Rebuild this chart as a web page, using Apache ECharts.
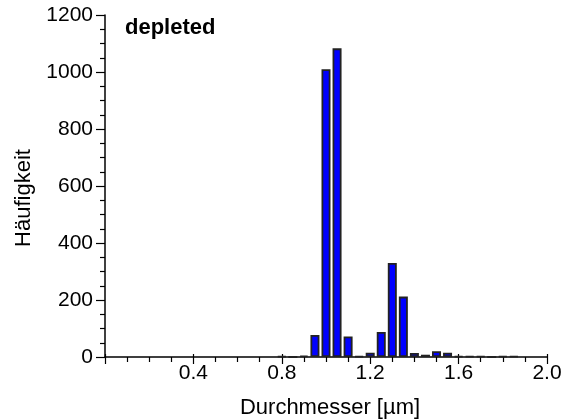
<!DOCTYPE html>
<html>
<head>
<meta charset="utf-8">
<script src="https://cdn.jsdelivr.net/npm/echarts@6/dist/echarts.min.js"></script>
<style>
html,body{margin:0;padding:0;background:#fff;}
#chart{width:575px;height:420px;}
</style>
</head>
<body>
<div id="chart"></div>
<script>
const titleText = 'depleted';
const xAxisName = 'Durchmesser [µm]';
const yAxisName = 'Häufigkeit';
const binCenters = [0.80, 0.85, 0.90, 0.95, 1.00, 1.05, 1.10, 1.15, 1.20, 1.25, 1.30, 1.35, 1.40, 1.45, 1.50, 1.55, 1.60, 1.65, 1.70, 1.75, 1.80, 1.85];
const counts     = [3,    0,    5,    77,   1010, 1083, 72,   3,    15,   88,   330,  212,  14,   8,    20,   15,   3,    3,    3,    0,    3,    3];
const xTicks = [0.4, 0.8, 1.2, 1.6, 2.0];
const yTicks = [0, 200, 400, 600, 800, 1000, 1200];

const font = 'Liberation Sans, Arial, sans-serif';
const chart = echarts.init(document.getElementById('chart'));
const gridL = 105, gridR = 28, gridT = 15, gridB = 63;

chart.setOption({
  animation: false,
  backgroundColor: '#fff',
  grid: { left: gridL, right: gridR, top: gridT, bottom: gridB },
  graphic: [
    { type: 'text', left: 125, top: 17, style: { text: titleText, font: 'bold 22px ' + font, fill: '#000' } },
    { type: 'text', x: 330, y: 397, style: { text: xAxisName, font: '22px ' + font, fill: '#000', textAlign: 'center' } },
    { type: 'text', x: 13, y: 198, rotation: Math.PI / 2, style: { text: yAxisName, font: '22px ' + font, fill: '#000', textAlign: 'center', textVerticalAlign: 'top' } }
  ],
  xAxis: [{
    type: 'value', min: 0, max: 2.0, interval: 0.4,
    axisLine: { show: true, lineStyle: { color: '#000', width: 1.5 } },
    axisTick: { show: true, inside: false, length: 7, lineStyle: { color: '#000', width: 1.2 } },
    minorTick: { show: true, splitNumber: 4, length: 5, lineStyle: { color: '#000', width: 1.2 } },
    splitLine: { show: false },
    axisLabel: {
      color: '#000', fontSize: 21, fontFamily: font, margin: 6, showMinLabel: false,
      formatter: v => xTicks.some(t => Math.abs(t - v) < 1e-6) ? v.toFixed(1) : ''
    }
  }, {
    type: 'value', min: 0, max: 2.0, interval: 0.4, position: 'bottom',
    axisLine: { show: false },
    axisTick: { show: true, inside: true, length: 3, lineStyle: { color: '#000', width: 1.2 } },
    axisLabel: { show: false }, splitLine: { show: false }
  }],
  yAxis: {
    type: 'value', min: 0, max: 1200, interval: 200,
    axisLine: { show: true, lineStyle: { color: '#000', width: 1.5 } },
    axisTick: { show: true, inside: false, length: 9, lineStyle: { color: '#000', width: 1.2 } },
    minorTick: { show: true, splitNumber: 4, length: 5, lineStyle: { color: '#000', width: 1.2 } },
    splitLine: { show: false },
    axisLabel: {
      color: '#000', fontSize: 21, fontFamily: font, margin: 12,
      formatter: v => yTicks.includes(v) ? String(v) : ''
    }
  },
  series: [{
    type: 'bar',
    xAxisIndex: 0,
    barWidth: 9,
    data: binCenters.map((x, i) => [x, counts[i]]),
    itemStyle: { color: '#0000ff', borderColor: '#222', borderWidth: 1.8 }
  }]
});
</script>
</body>
</html>
